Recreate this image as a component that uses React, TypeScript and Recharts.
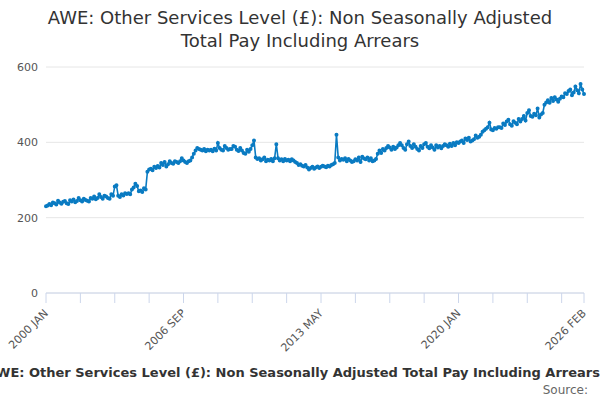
import { LineChart, Line, XAxis, YAxis, CartesianGrid } from 'recharts';

const years = [2000, 2001, 2002, 2003, 2004, 2005, 2006, 2007, 2008, 2009, 2010, 2011, 2012, 2013, 2014, 2015, 2016, 2017, 2018, 2019, 2020, 2021, 2022, 2023, 2024, 2025, 2026];
const months = ['JAN', 'FEB', 'MAR', 'APR', 'MAY', 'JUN', 'JUL', 'AUG', 'SEP', 'OCT', 'NOV', 'DEC'];

// monthly values by year
const values: number[][] = [
  [230, 232, 236, 233, 240, 238, 235, 245, 240, 237, 242, 244],
  [238, 236, 246, 243, 248, 241, 244, 252, 246, 243, 250, 247],
  [245, 243, 252, 250, 256, 249, 252, 262, 255, 250, 258, 256],
  [252, 250, 262, 258, 283, 286, 258, 255, 262, 259, 265, 263],
  [265, 262, 275, 280, 290, 284, 270, 272, 268, 278, 275, 322],
  [328, 330, 326, 335, 332, 337, 333, 345, 340, 348, 336, 342],
  [350, 345, 343, 350, 348, 345, 350, 358, 352, 348, 345, 350],
  [352, 360, 370, 378, 385, 382, 380, 378, 382, 376, 380, 378],
  [380, 376, 383, 378, 398, 385, 380, 378, 390, 385, 380, 382],
  [382, 390, 388, 380, 377, 385, 378, 372, 370, 380, 375, 382],
  [392, 405, 360, 356, 358, 352, 355, 360, 350, 354, 352, 356],
  [350, 358, 395, 358, 352, 355, 350, 356, 352, 354, 350, 355],
  [352, 348, 345, 340, 342, 338, 336, 340, 333, 328, 332, 335],
  [330, 333, 336, 332, 335, 338, 336, 334, 338, 336, 340, 342],
  [345, 420, 360, 352, 356, 354, 358, 350, 356, 352, 348, 350],
  [355, 352, 360, 348, 362, 357, 355, 360, 352, 358, 350, 352],
  [356, 370, 378, 372, 382, 378, 385, 390, 386, 380, 388, 382],
  [386, 392, 398, 392, 385, 380, 395, 402, 390, 385, 395, 388],
  [382, 378, 390, 385, 395, 398, 388, 384, 392, 386, 380, 392],
  [386, 390, 384, 390, 395, 392, 388, 396, 390, 398, 392, 400],
  [398, 402, 405, 398, 410, 406, 412, 402, 405, 408, 418, 412],
  [415, 420, 428, 432, 436, 440, 452, 434, 432, 438, 436, 440],
  [440, 438, 450, 446, 455, 460, 448, 444, 456, 452, 448, 462],
  [455, 462, 470, 458, 478, 485, 470, 468, 476, 472, 490, 466],
  [474, 478, 500, 506, 512, 505, 518, 510, 520, 514, 508, 516],
  [522, 520, 530, 528, 536, 540, 525, 532, 548, 538, 530, 555],
  [540, 528],
];

const data = values.flatMap((row, yi) =>
  row.map((v, mi) => ({ i: yi * 12 + mi, label: `${years[yi]} ${months[mi]}`, value: v }))
);

const xTicks = [0, 20, 40, 60, 80, 100, 120, 140, 160, 180, 200, 220, 240, 260, 280, 300, 313];
const labelled = [0, 80, 160, 240, 313];
const yTicks = [0, 200, 400, 600];
const seriesName = 'AWE: Other Services Level (£): Non Seasonally Adjusted Total Pay Including Arrears';

const font = '"DejaVu Sans", sans-serif';

function XTick(props: any) {
  const { x, y, payload } = props;
  if (!labelled.includes(payload.value)) return null;
  return (
    <text x={x} y={y + 6} transform={`rotate(-45 ${x} ${y + 6})`} textAnchor="end" fontSize={11} fill="#555" fontFamily={font} dy={4}>
      {data[payload.value].label}
    </text>
  );
}

export default function App() {
  return (
    <div style={{ position: 'absolute', left: 0, top: 0, width: 600, height: 400, background: '#fff', fontFamily: font, overflow: 'hidden' }}>
      <div style={{ position: 'absolute', top: 6, width: 600, textAlign: 'center', fontSize: 18, color: '#333', lineHeight: '23px' }}>
        AWE: Other Services Level (£): Non Seasonally Adjusted
        <br />
        Total Pay Including Arrears
      </div>
      <LineChart width={600} height={400} data={data} margin={{ top: 67, right: 16, left: 0, bottom: 47 }}>
        <CartesianGrid vertical={false} stroke="#e6e6e6" />
        <XAxis
          dataKey="i"
          type="number"
          domain={[0, 313]}
          ticks={xTicks}
          interval={0}
          height={60}
          stroke="#ccd6eb"
          tickSize={10}
          tick={<XTick />}
        />
        <YAxis
          domain={[0, 600]}
          ticks={yTicks}
          width={46}
          axisLine={false}
          tickLine={false}
          tick={{ fontSize: 11, fill: '#555', fontFamily: font }}
        />
        <Line
          type="linear"
          dataKey="value"
          stroke="#0a7bc2"
          strokeWidth={1.6}
          dot={{ r: 1.2, fill: '#0a7bc2', stroke: '#0a7bc2' }}
          isAnimationActive={false}
        />
      </LineChart>
      <div style={{ position: 'absolute', top: 365, right: 0, whiteSpace: 'nowrap', fontSize: 13, fontWeight: 'bold', color: '#333' }}>
        <span style={{ display: 'inline-block', width: 12, height: 2, background: '#0a7bc2', verticalAlign: 'middle', marginRight: 4 }} />
        {seriesName}
      </div>
      <div style={{ position: 'absolute', top: 383, right: 12, fontSize: 12, color: '#666' }}>Source:</div>
    </div>
  );
}
